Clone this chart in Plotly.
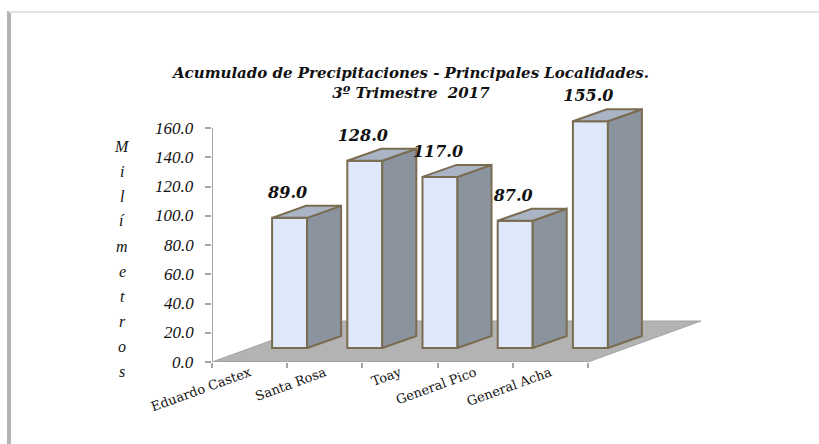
import plotly.graph_objects as go

# ---------------- data ----------------
categories = ["Eduardo Castex", "Santa Rosa", "Toay", "General Pico", "General Acha"]
values = [89.0, 128.0, 117.0, 87.0, 155.0]
y_ticks = [0, 20, 40, 60, 80, 100, 120, 140, 160]
title_lines = ["Acumulado de Precipitaciones - Principales Localidades.",
               "3º Trimestre\u00a0\u00a02017"]
y_title = "Milímetros"

# ---------------- geometry ----------------
W, H = 819, 444
L, R, T, B = 212, 740, 60, 362          # plot area in pixels
PXX = 75.2                               # pixels per category
PXY = 1.4625                             # pixels per mm

x_lo = -0.5
x_hi = x_lo + (R - L) / PXX
y_hi = (B - T) / PXY


def dx(px):
    return px / PXX


def dy(px):
    return px / PXY


def paper_x(px):
    return (px - L) / (R - L)


def paper_y(py):
    return (B - py) / (B - T)


bar_cx = dx(40)      # shift of bar front face centre from front edge centre
bar_base = dy(14)    # bars sit deeper on the floor
bar_w = dx(35)
side_x, side_y = dx(34), dy(12)
floor_x, floor_y = dx(113), dy(41)
n = len(categories)

FRONT = "#dfe8fb"
SIDE = "#8b939f"
TOP = "#a9b4c4"
EDGE = "#7a6c50"
FLOOR = "#b3b3b3"
AXIS = "#a6a6a6"
SERIF = "DejaVu Serif"
SERIF2 = "Liberation Serif"

fig = go.Figure()

# front faces (bars)
fig.add_trace(go.Bar(
    x=[i + bar_cx for i in range(n)], y=values, base=bar_base, width=bar_w,
    marker=dict(color=FRONT, line=dict(color=EDGE, width=2)),
    hoverinfo="skip", showlegend=False))

# side and top faces
for i, v in enumerate(values):
    xr = i + bar_cx + bar_w / 2
    xl = xr - bar_w
    top = bar_base + v
    fig.add_trace(go.Scatter(
        x=[xr, xr + side_x, xr + side_x, xr, xr],
        y=[bar_base, bar_base + side_y, top + side_y, top, bar_base],
        mode="lines", fill="toself", fillcolor=SIDE,
        line=dict(color=EDGE, width=2), hoverinfo="skip", showlegend=False))
    fig.add_trace(go.Scatter(
        x=[xl, xr, xr + side_x, xl + side_x, xl],
        y=[top, top, top + side_y, top + side_y, top],
        mode="lines", fill="toself", fillcolor=TOP,
        line=dict(color=EDGE, width=2), hoverinfo="skip", showlegend=False))

# value labels
fig.add_trace(go.Scatter(
    x=[i + bar_cx - dx(2) for i in range(n)],
    y=[bar_base + v + side_y + dy(12) for v in values],
    mode="text", text=[f"<b><i>{v:.1f}</i></b>" for v in values],
    textposition="middle center",
    textfont=dict(family=SERIF, size=16, color="#111111"),
    cliponaxis=False, hoverinfo="skip", showlegend=False))

shapes = []
# floor
fx0, fx1 = -0.5, n - 0.5
shapes.append(dict(
    type="path", xref="x", yref="y", layer="below",
    path=f"M {fx0},0 L {fx1},0 L {fx1 + floor_x},{floor_y} L {fx0 + floor_x},{floor_y} Z",
    fillcolor=FLOOR, line=dict(color="#a3a3a3", width=1)))
# x axis (front floor edge)
shapes.append(dict(type="line", xref="x", yref="y", x0=fx0, x1=fx1, y0=0, y1=0,
                   line=dict(color=AXIS, width=2), layer="above"))
# y axis
shapes.append(dict(type="line", xref="x", yref="y", x0=x_lo, x1=x_lo,
                   y0=y_ticks[0], y1=y_ticks[-1], line=dict(color=AXIS, width=2)))
# frame of the image
shapes.append(dict(type="line", xref="paper", yref="paper",
                   x0=paper_x(9), x1=paper_x(9), y0=paper_y(11), y1=paper_y(460),
                   line=dict(color="#b4b4b4", width=4)))
shapes.append(dict(type="line", xref="paper", yref="paper",
                   x0=paper_x(9), x1=paper_x(840), y0=paper_y(12), y1=paper_y(12),
                   line=dict(color="#e2e2e2", width=2)))

annotations = []
for k, ch in enumerate(y_title):
    annotations.append(dict(
        xref="paper", yref="paper", x=paper_x(122), y=paper_y(146 + 25 * k),
        text=f"<i>{ch}</i>", showarrow=False, xanchor="center", yanchor="middle",
        font=dict(family=SERIF2, size=16, color="#111111")))
# y tick labels
for t in y_ticks:
    annotations.append(dict(
        xref="paper", yref="y", x=paper_x(196), y=t,
        text=f"<i>{t:.1f}</i>", showarrow=False, xanchor="right", yanchor="middle",
        font=dict(family=SERIF2, size=17, color="#111111")))

fig.update_layout(
    width=W, height=H,
    margin=dict(l=L, r=W - R, t=T, b=H - B, pad=0),
    paper_bgcolor="white", plot_bgcolor="white",
    showlegend=False,
    title=dict(text="<b><i>" + "<br>".join(title_lines) + "</i></b>",
               xref="container", yref="container",
               x=411 / W, xanchor="center", y=1 - 78 / H, yanchor="top",
               font=dict(family=SERIF, size=15, color="#111111")),
    xaxis=dict(range=[x_lo, x_hi], tickmode="array",
               tickvals=list(range(n)), ticktext=categories,
               ticks="", showline=False, showgrid=False, zeroline=False,
               tickangle=-20, tickfont=dict(family=SERIF, size=13, color="#111111"),
               minor=dict(tickmode="array", tickvals=[i - 0.5 for i in range(n + 1)],
                          ticks="outside", ticklen=5, tickwidth=2, tickcolor=AXIS,
                          showgrid=False)),
    yaxis=dict(range=[0, y_hi], tickmode="array", tickvals=y_ticks,
               showticklabels=False,
               ticks="outside", ticklen=6, tickwidth=2, tickcolor=AXIS,
               showline=False, showgrid=False, zeroline=False),
    shapes=shapes, annotations=annotations,
)

fig.write_html("out.html", config={"displayModeBar": False},
               post_script="document.body.style.margin='0';")
